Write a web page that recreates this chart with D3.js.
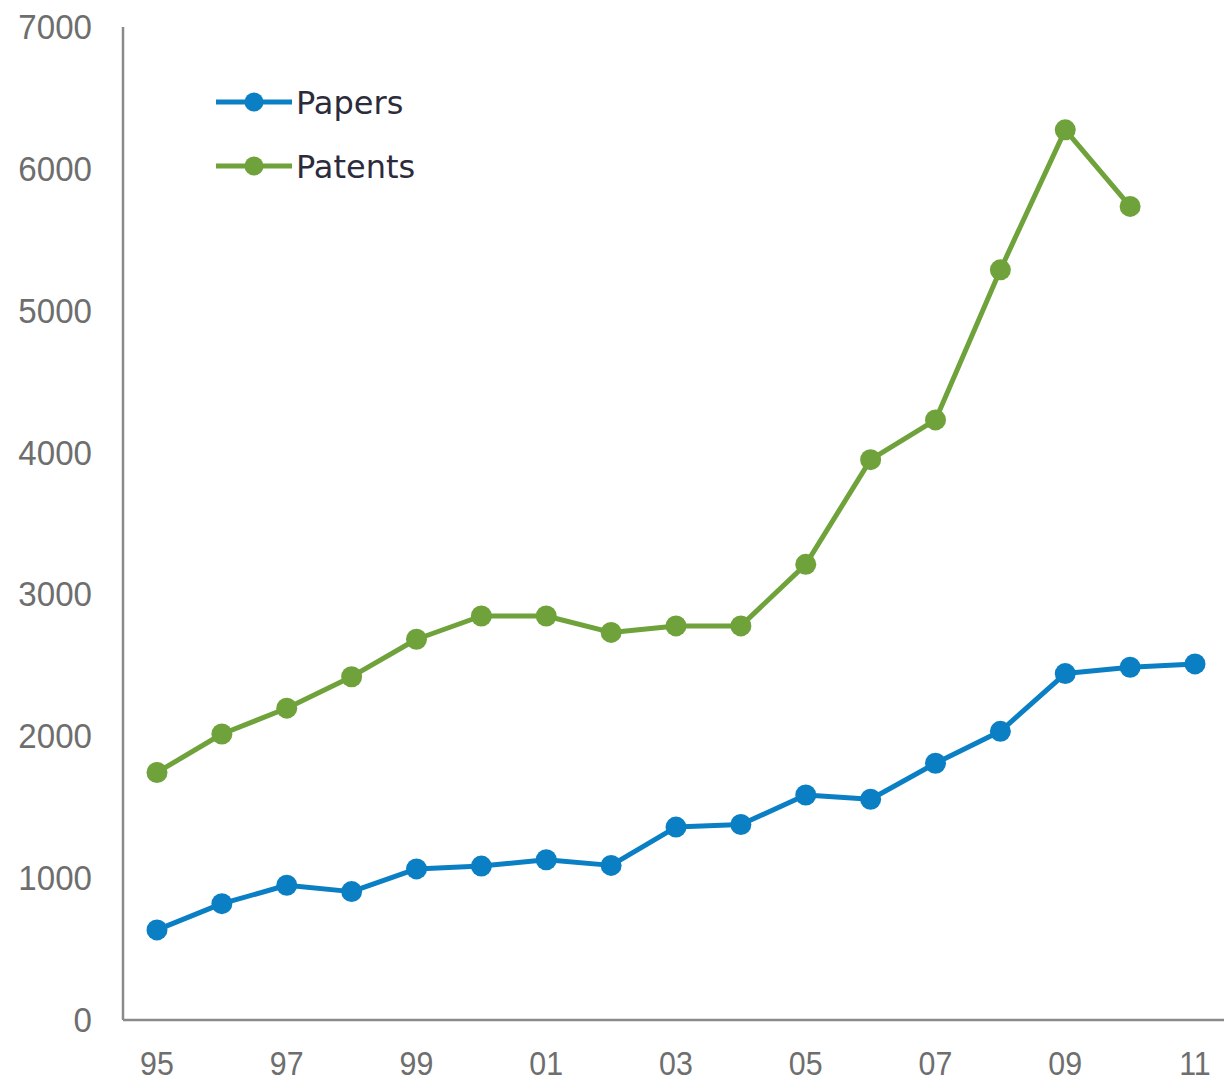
<!DOCTYPE html>
<html>
<head>
<meta charset="utf-8">
<script src="https://cdn.jsdelivr.net/npm/d3@7"></script>
<style>
  html, body { margin: 0; padding: 0; background: #fff; }
  svg { display: block; }
</style>
</head>
<body>
<svg id="chart" width="1224" height="1084"></svg>
<script>
// Years 1995–2011 (two-digit labels on the axis)
const years = [1995, 1996, 1997, 1998, 1999, 2000, 2001, 2002, 2003, 2004, 2005, 2006, 2007, 2008, 2009, 2010, 2011];
const papers = [635, 820, 950, 905, 1065, 1085, 1130, 1090, 1360, 1378, 1586, 1556, 1810, 2035, 2442, 2487, 2510];
const patents = [1745, 2016, 2198, 2420, 2684, 2848, 2848, 2732, 2778, 2778, 3212, 3950, 4230, 5288, 6275, 5735, null];
const yTicks = [0, 1000, 2000, 3000, 4000, 5000, 6000, 7000];
const xTickYears = [1995, 1997, 1999, 2001, 2003, 2005, 2007, 2009, 2011];
const seriesNames = ["Papers", "Patents"];
const seriesColors = ["#0b7fc4", "#6fa23b"];

const svg = d3.select("#chart");

const x = d3.scaleLinear().domain([1995, 2011]).range([157, 1195]);
const y = d3.scaleLinear().domain([0, 7000]).range([1020, 27]);

const axisColor = "#8a8a8a";
const labelFont = "'Liberation Sans', Arial, sans-serif";
const squeeze = 0.92; // slightly condensed tick labels

// Y axis: plain line with labels, no tick marks
const yAxis = d3.axisLeft(y).tickValues(yTicks).tickSize(0).tickFormat(d3.format("d"));
const gy = svg.append("g").attr("transform", "translate(123,0)").call(yAxis);
gy.select(".domain").attr("stroke", axisColor).attr("stroke-width", 2.5).attr("d", `M0,${y(7000)}V${y(0)}`);
gy.selectAll("text")
  .attr("x", -31 / squeeze)
  .attr("transform", `scale(${squeeze},1)`)
  .attr("font-family", labelFont)
  .attr("font-size", 36)
  .attr("fill", "#6e6e6e");

// X axis along the bottom, running to the right edge
const xAxis = d3.axisBottom(x).tickValues(xTickYears).tickSize(0)
  .tickFormat(d => String(d % 100).padStart(2, "0"));
const gx = svg.append("g").attr("transform", `translate(0,${y(0)})`).call(xAxis);
gx.select(".domain").attr("stroke", axisColor).attr("stroke-width", 2.5).attr("d", "M123,0H1224");
gx.selectAll(".tick").each(function (d) {
  // keep the horizontal squeeze centred on each tick
  d3.select(this).attr("transform", `translate(${x(d)},0) scale(${squeeze},1)`);
});
gx.selectAll("text")
  .attr("y", 32)
  .attr("dy", "0.71em")
  .attr("font-family", labelFont)
  .attr("font-size", 33)
  .attr("fill", "#6e6e6e");

// Lines with round markers
const dataSets = [papers, patents];
const line = d3.line()
  .defined(d => d.v != null)
  .x(d => x(d.year))
  .y(d => y(d.v));

dataSets.forEach((vals, i) => {
  const pts = years.map((yr, j) => ({ year: yr, v: vals[j] }));
  const g = svg.append("g");
  g.append("path")
    .datum(pts)
    .attr("fill", "none")
    .attr("stroke", seriesColors[i])
    .attr("stroke-width", 5)
    .attr("stroke-linejoin", "round")
    .attr("d", line);
  g.selectAll("circle")
    .data(pts.filter(d => d.v != null))
    .join("circle")
    .attr("cx", d => x(d.year))
    .attr("cy", d => y(d.v))
    .attr("r", 10.5)
    .attr("fill", seriesColors[i]);
});

// Legend
const legend = svg.append("g");
seriesNames.forEach((name, i) => {
  const ly = 102 + i * 64;
  const row = legend.append("g");
  row.append("line")
    .attr("x1", 216).attr("x2", 292)
    .attr("y1", ly).attr("y2", ly)
    .attr("stroke", seriesColors[i]).attr("stroke-width", 5);
  row.append("circle")
    .attr("cx", 254).attr("cy", ly).attr("r", 9.5)
    .attr("fill", seriesColors[i]);
  row.append("text")
    .attr("x", 296).attr("y", ly)
    .attr("dy", "0.36em")
    .attr("font-family", "'DejaVu Sans', Verdana, sans-serif")
    .attr("font-size", 32)
    .attr("fill", "#2b2b3c")
    .text(name);
});
</script>
</body>
</html>
